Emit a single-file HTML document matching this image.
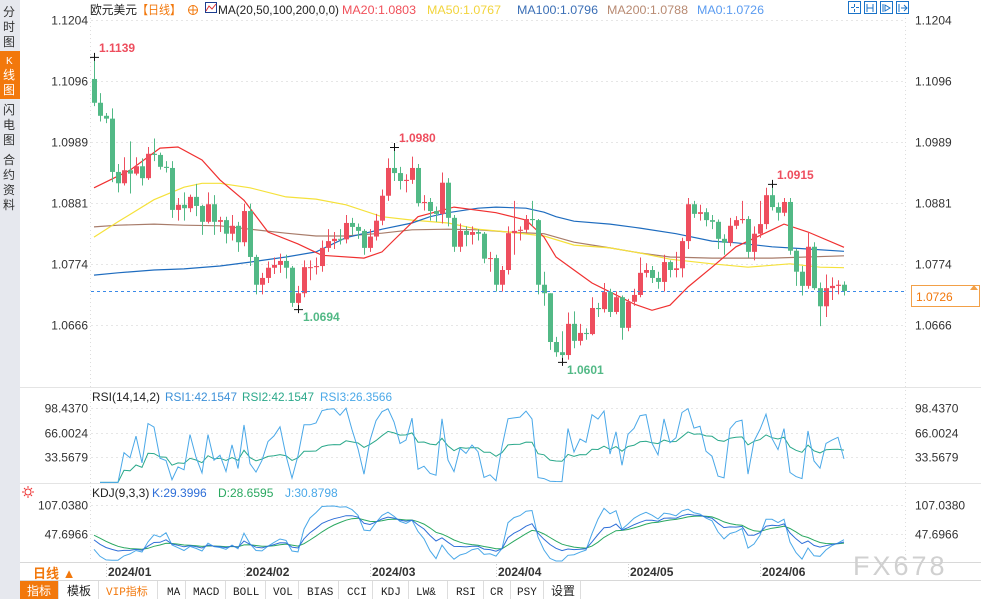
<!DOCTYPE html>
<html><head><meta charset="utf-8">
<style>
html,body{margin:0;padding:0;background:#fff;}
body{width:981px;height:599px;overflow:hidden;position:relative;font-family:"Liberation Sans","Noto Sans CJK SC",sans-serif;}
svg{position:absolute;left:0;top:0;}
svg text{font-family:"Liberation Sans","Noto Sans CJK SC",sans-serif;}
svg text.mono{font-family:"Liberation Mono","Noto Sans CJK SC",monospace;}
</style></head>
<body>
<svg id="chart" width="981" height="599">
  <rect x="0" y="0" width="20" height="599" fill="#e6e8ee"/>
  <g font-size="12" fill="#333">
    <g><text x="3" y="16">分</text><text x="3" y="31">时</text><text x="3" y="46">图</text></g>
    <rect x="0" y="51" width="20" height="48" fill="#f2780c"/>
    <g fill="#fff"><text x="6" y="64" font-size="10">K</text><text x="3" y="79">线</text><text x="3" y="94">图</text></g>
    <g><text x="3" y="114">闪</text><text x="3" y="129">电</text><text x="3" y="144">图</text></g>
    <g><text x="3" y="164">合</text><text x="3" y="179">约</text><text x="3" y="194">资</text><text x="3" y="209">料</text></g>
  </g>
  <line x1="90.5" y1="18" x2="90.5" y2="562" stroke="#ddd" stroke-dasharray="1,3"/>
  <line x1="905.5" y1="18" x2="905.5" y2="562" stroke="#ddd" stroke-dasharray="1,3"/>
  <g id="grid"></g>
  <g id="priceAxis" font-size="12" fill="#333"></g>
  <g id="mas"></g>
  <g id="candles"></g>
  <g id="rsiG"></g>
  <g id="kdjG"></g>
  <g id="dates" font-size="12" font-weight="bold" fill="#333"></g>

  <g font-size="12">
    <text x="90" y="14" fill="#222" textLength="47" lengthAdjust="spacingAndGlyphs">欧元美元</text>
    <text x="137" y="14" fill="#f2780c" textLength="44" lengthAdjust="spacingAndGlyphs">【日线】</text>
    <g><circle cx="193" cy="10" r="4.5" fill="none" stroke="#f2780c"/><line x1="188" y1="10" x2="198" y2="10" stroke="#f2780c"/><line x1="193" y1="5" x2="193" y2="15" stroke="#f2780c"/></g>
    <g><rect x="205.5" y="2.5" width="11" height="10" fill="#fff" stroke="#1d3d8f"/><polyline points="206,11 209,6 212,9 216,4" fill="none" stroke="#d33"/></g>
    <text x="218" y="14" fill="#222" textLength="121" lengthAdjust="spacingAndGlyphs">MA(20,50,100,200,0,0)</text>
    <text x="342" y="14" fill="#f0505a" textLength="74" lengthAdjust="spacingAndGlyphs">MA20:1.0803</text>
    <text x="427" y="14" fill="#f2d43c" textLength="74" lengthAdjust="spacingAndGlyphs">MA50:1.0767</text>
    <text x="517" y="14" fill="#3b6fb6" textLength="81" lengthAdjust="spacingAndGlyphs">MA100:1.0796</text>
    <text x="607" y="14" fill="#b88a72" textLength="81" lengthAdjust="spacingAndGlyphs">MA200:1.0788</text>
    <text x="697" y="14" fill="#5a9bf0" textLength="67" lengthAdjust="spacingAndGlyphs">MA0:1.0726</text>
  </g>
  <g fill="none" stroke="#1a73c8">
    <rect x="848.5" y="1.5" width="12" height="12"/>
    <rect x="864.5" y="1.5" width="12" height="12"/>
    <rect x="880.5" y="1.5" width="12" height="12"/>
    <rect x="896.5" y="1.5" width="12" height="12"/>
    <path d="M854.5 4v3M854.5 9v3M851 7.5h3M856 7.5h3M867 4v8M873 4v8M867 8h6M883 4v8M885 5l5 3-5 3zM899 4v8M901 8h6M904 5l3 3-3 3" fill="none"/>
  </g>

  <line x1="91" y1="291.5" x2="905" y2="291.5" stroke="#3a8ae8" stroke-dasharray="3,3"/>
  <rect x="911.5" y="285.5" width="68" height="21" fill="#fff" stroke="#f2a048"/>
  <text x="916" y="301" font-size="12" fill="#f2780c">1.0726</text>
  <path d="M970 290l4-5 4 5z" fill="#f2a048"/>

  <line x1="20" y1="387.5" x2="981" y2="387.5" stroke="#e4e4e4"/>
  <line x1="20" y1="483.5" x2="981" y2="483.5" stroke="#e4e4e4"/>
  <line x1="20" y1="562.5" x2="981" y2="562.5" stroke="#d8d8d8"/>
  <line x1="20" y1="580.5" x2="981" y2="580.5" stroke="#d8d8d8"/>

  <g font-size="12">
  <text x="92" y="401" fill="#222" textLength="68" lengthAdjust="spacingAndGlyphs">RSI(14,14,2)</text>
  <text x="165" y="401" fill="#3c90d8" textLength="72" lengthAdjust="spacingAndGlyphs">RSI1:42.1547</text>
  <text x="242" y="401" fill="#2aa88a" textLength="72" lengthAdjust="spacingAndGlyphs">RSI2:42.1547</text>
  <text x="320" y="401" fill="#4aa8e8" textLength="72" lengthAdjust="spacingAndGlyphs">RSI3:26.3566</text>
  </g>
  <g><circle cx="28" cy="492" r="3" fill="none" stroke="#e33"/><path d="M28 486v2M28 496v2M22 492h2M32 492h2M24 488l1.4 1.4M30.6 494.6l1.4 1.4M24 496l1.4-1.4M30.6 489.4l1.4-1.4" stroke="#e33"/></g>
  <text x="92" y="497" font-size="12" fill="#222">KDJ(9,3,3)</text>
  <text x="152" y="497" font-size="12" fill="#2f6fd8">K:29.3996</text>
  <text x="218" y="497" font-size="12" fill="#2aa860">D:28.6595</text>
  <text x="285" y="497" font-size="12" fill="#4aa8e8">J:30.8798</text>

  <text x="33" y="578" font-size="13" font-weight="bold" fill="#f2780c">日线 ▲</text>
  <text x="853" y="575" font-size="27" fill="#d0d0d0" letter-spacing="3">FX678</text>

  <g font-size="11" fill="#222">
    <rect x="20" y="581" width="38" height="18" fill="#f2780c"/>
    <text x="27" y="595" fill="#fff" font-size="12">指标</text>
    <text x="67" y="595" font-size="12">模板</text>
    <text class="mono" x="106" y="595" fill="#f2780c">VIP指标</text>
    <text class="mono" x="167" y="595">MA</text>
    <text class="mono" x="193" y="595">MACD</text>
    <text class="mono" x="233" y="595">BOLL</text>
    <text class="mono" x="273" y="595">VOL</text>
    <text class="mono" x="307" y="595">BIAS</text>
    <text class="mono" x="347" y="595">CCI</text>
    <text class="mono" x="381" y="595">KDJ</text>
    <text class="mono" x="416" y="595">LW&amp;</text>
    <text class="mono" x="456" y="595">RSI</text>
    <text class="mono" x="490" y="595">CR</text>
    <text class="mono" x="517" y="595">PSY</text>
    <text x="551" y="595" font-size="12">设置</text>
    <path d="M58.5 581v18M98.5 581v18M157.5 581v18M185.5 581v18M225.5 581v18M265.5 581v18M298.5 581v18M338.5 581v18M372.5 581v18M408.5 581v18M447.5 581v18M483.5 581v18M510.5 581v18M543.5 581v18M580.5 581v18" stroke="#ddd"/>
  </g>
</svg>
<script>
const closes=[1.1058,1.1035,1.1030,1.0936,1.0916,1.0939,1.0933,1.0946,1.0925,1.0968,1.0966,1.0945,1.0943,1.0869,1.0878,1.0872,1.0892,1.0876,1.0848,1.0879,1.0848,1.0851,1.0827,1.0841,1.0812,1.0867,1.0786,1.0737,1.0749,1.0767,1.0772,1.0779,1.0767,1.0705,1.0722,1.0768,1.0768,1.0770,1.0802,1.0814,1.0818,1.0817,1.0846,1.0839,1.0832,1.0802,1.0822,1.0850,1.0894,1.0943,1.0934,1.0920,1.0922,1.0943,1.0881,1.0883,1.0867,1.0862,1.0917,1.0855,1.0804,1.0832,1.0825,1.0830,1.0827,1.0783,1.0784,1.0737,1.0763,1.0828,1.0832,1.0834,1.0853,1.0851,1.0737,1.0722,1.0636,1.0618,1.0613,1.0668,1.0638,1.0652,1.0650,1.0696,1.0694,1.0724,1.0689,1.0715,1.0661,1.0707,1.0719,1.0758,1.0763,1.0749,1.0742,1.0777,1.0763,1.0766,1.0814,1.0879,1.0862,1.0865,1.0851,1.0848,1.0818,1.0811,1.0841,1.0851,1.0853,1.0795,1.0827,1.0844,1.0895,1.0874,1.0864,1.0883,1.0797,1.0760,1.0735,1.0804,1.0731,1.0699,1.0731,1.0735,1.0737,1.0726];
const highs=[1.1139,1.1075,1.1040,1.1048,1.0950,1.0962,1.0990,1.0962,1.0960,1.0980,1.0995,1.0970,1.0955,1.0955,1.0890,1.0900,1.0896,1.0915,1.0878,1.0900,1.0895,1.0857,1.0857,1.0860,1.0848,1.0880,1.0880,1.0790,1.0758,1.0778,1.0785,1.0792,1.0790,1.0770,1.0735,1.0780,1.0780,1.0785,1.0815,1.0835,1.0830,1.0835,1.0860,1.0855,1.0845,1.0835,1.0835,1.0862,1.0905,1.0960,1.0980,1.0945,1.0932,1.0963,1.0950,1.0895,1.0890,1.0875,1.0935,1.0925,1.0860,1.0845,1.0840,1.0840,1.0835,1.0830,1.0795,1.0790,1.0770,1.0840,1.0885,1.0840,1.0860,1.0885,1.0853,1.0760,1.0722,1.0645,1.0655,1.0688,1.0690,1.0668,1.0660,1.0715,1.0705,1.0740,1.0730,1.0725,1.0718,1.0712,1.0730,1.0785,1.0775,1.0770,1.0760,1.0790,1.0780,1.0795,1.0820,1.0890,1.0885,1.0878,1.0872,1.0860,1.0852,1.0826,1.0855,1.0858,1.0885,1.0858,1.0840,1.0885,1.0908,1.0915,1.0882,1.0890,1.0890,1.0800,1.0770,1.0830,1.0812,1.0741,1.0755,1.0750,1.0745,1.0743];
const lows=[1.1052,1.1025,1.1022,1.0918,1.0900,1.0912,1.0898,1.0930,1.0912,1.0922,1.0955,1.0940,1.0935,1.0855,1.0850,1.0850,1.0865,1.0858,1.0825,1.0845,1.0825,1.0830,1.0810,1.0815,1.0795,1.0805,1.0770,1.0720,1.0720,1.0740,1.0756,1.0758,1.0748,1.0698,1.0694,1.0715,1.0745,1.0755,1.0760,1.0795,1.0800,1.0808,1.0810,1.0825,1.0818,1.0790,1.0795,1.0815,1.0842,1.0885,1.0920,1.0905,1.0900,1.0915,1.0875,1.0868,1.0850,1.0848,1.0845,1.0840,1.0795,1.0795,1.0805,1.0808,1.0815,1.0775,1.0760,1.0725,1.0725,1.0755,1.0790,1.0815,1.0828,1.0840,1.0720,1.0700,1.0622,1.0610,1.0601,1.0605,1.0625,1.0630,1.0640,1.0648,1.0680,1.0688,1.0680,1.0685,1.0640,1.0655,1.0700,1.0715,1.0750,1.0740,1.0730,1.0725,1.0750,1.0750,1.0750,1.0800,1.0855,1.0850,1.0840,1.0835,1.0800,1.0790,1.0805,1.0835,1.0845,1.0785,1.0780,1.0820,1.0835,1.0868,1.0850,1.0858,1.0790,1.0735,1.0718,1.0730,1.0728,1.0664,1.0680,1.0710,1.0720,1.0718];
const firstOpen=1.1100;
const ma20Idx=[0,6,11,14,18,21,25,29,34,38,45,48,50,54,60,67,72,75,77,80,83,87,90,93,96,99,103,107,113,115,119,125];
const ma20Val=[1.0908,1.0939,1.0978,1.0980,1.0957,1.0922,1.0886,1.0830,1.0809,1.0789,1.0784,1.0795,1.0816,1.0857,1.0874,1.0864,1.0851,1.0821,1.0786,1.0763,1.0740,1.0719,1.0703,1.0692,1.0701,1.0733,1.0768,1.0804,1.0834,1.0844,1.0830,1.0803];
const ma50Idx=[0,4,10,15,18,21,26,32,37,42,48,53,59,64,69,75,80,86,91,96,103,109,116,121,125];
const ma50Val=[1.0821,1.0848,1.0887,1.0909,1.0916,1.0916,1.0908,1.0892,1.0888,1.0878,1.0857,1.0851,1.0846,1.0835,1.0830,1.0823,1.0807,1.0802,1.0793,1.0782,1.0774,1.0768,1.0774,1.0768,1.0767];
const ma100Idx=[0,4,10,15,21,26,32,37,42,48,53,56,59,64,67,72,75,77,80,86,91,97,103,107,113,119,125];
const ma100Val=[1.0754,1.0758,1.0763,1.0765,1.0770,1.0777,1.0786,1.0795,1.0820,1.0835,1.0846,1.0857,1.0864,1.0872,1.0874,1.0872,1.0865,1.0857,1.0849,1.0844,1.0837,1.0827,1.0814,1.0811,1.0804,1.0800,1.0796];
const ma200Idx=[0,4,10,15,21,26,32,37,42,48,53,59,64,69,75,80,86,91,96,103,113,125];
const ma200Val=[1.0839,1.0842,1.0844,1.0842,1.0841,1.0835,1.0828,1.0823,1.0823,1.0828,1.0834,1.0835,1.0834,1.0830,1.0827,1.0812,1.0802,1.0793,1.0786,1.0784,1.0784,1.0788];
const priceTicks=["1.1204","1.1096","1.0989","1.0881","1.0774","1.0666"];
const rsiTicks=["98.4370","66.0024","33.5679"];
const kdjTicks=["107.0380","47.6966"];
const monthLabels=["2024/01","2024/02","2024/03","2024/04","2024/05","2024/06"];
const monthStartIdx=[2,25,46,67,89,111];
const annoIdx=[0,50,34,78,113];
const annoText=["1.1139","1.0980","1.0694","1.0601","1.0915"];
const annoHigh=[true,true,false,false,true];

const NS="http://www.w3.org/2000/svg";
function mk(tag,attrs,parent){const e=document.createElementNS(NS,tag);for(const k in attrs)e.setAttribute(k,attrs[k]);parent.appendChild(e);return e;}
const xOf=i=>94+6*i;
const yP=p=>20+(1.1204-p)*5669;
const yR=v=>408+(98.437-v)*0.7554;
const yK=v=>Math.min(561,Math.max(486,505+(107.038-v)*0.4887));

const grid=document.getElementById('grid'),pa=document.getElementById('priceAxis');
priceTicks.forEach(t=>{const y=Math.round(yP(+t))+0.5;
  const l=mk('line',{x1:91,x2:905,y1:y,y2:y,stroke:'#e6e6e6','stroke-dasharray':'2,3'},grid);
  
  
  const a=mk('text',{x:88,y:y+4,'text-anchor':'end'},pa);a.textContent=t;
  
  
  const b=mk('text',{x:915,y:y+4},pa);b.textContent=t;
  
  
});
rsiTicks.forEach(t=>{const y=Math.round(yR(+t))+0.5;
  const l=mk('line',{x1:91,x2:905,y1:y,y2:y,stroke:'#e6e6e6','stroke-dasharray':'2,3'},grid);
  
  
  const a=mk('text',{x:88,y:y+4,'text-anchor':'end'},pa);a.textContent=t;
  
  
  const b=mk('text',{x:915,y:y+4},pa);b.textContent=t;
  
  
});
kdjTicks.forEach(t=>{const y=Math.round(yK(+t))+0.5;
  const l=mk('line',{x1:91,x2:905,y1:y,y2:y,stroke:'#e6e6e6','stroke-dasharray':'2,3'},grid);
  
  
  const a=mk('text',{x:88,y:y+4,'text-anchor':'end'},pa);a.textContent=t;
  
  
  const b=mk('text',{x:915,y:y+4},pa);b.textContent=t;
  
  
});

const mas=document.getElementById('mas');
[[ma200Idx,ma200Val,'#a87c6a','ma200-line'],[ma50Idx,ma50Val,'#f5e13a','ma50-line'],[ma100Idx,ma100Val,'#1e6cbf','ma100-line'],[ma20Idx,ma20Val,'#f03030','ma20-line']].forEach(([ix,v,c,n])=>{
  const pts=ix.map((i,k)=>xOf(i)+','+yP(v[k]).toFixed(1)).join(' ');
  const p=mk('polyline',{points:pts,fill:'none',stroke:c,'stroke-width':1.2},mas);
  
  
});

const cg=document.getElementById('candles');
closes.forEach((c,i)=>{
  const o=i===0?firstOpen:closes[i-1];
  const up=c>=o, col=up?'#ee4e5e':'#52b986', x=xOf(i);
  const g=mk('g',{},cg);
  
  
  mk('line',{x1:x+0.5,x2:x+0.5,y1:yP(highs[i]),y2:yP(lows[i]),stroke:col},g);
  const t=yP(Math.max(o,c)),b=yP(Math.min(o,c));
  mk('rect',{x:x-2,y:t,width:5,height:Math.max(1,b-t),fill:col},g);
});
annoIdx.forEach((i,k)=>{
  const x=xOf(i),hi=annoHigh[k],y=hi?yP(highs[i]):yP(lows[i]);
  const m=mk('path',{d:`M${x-4} ${y+0.5}h9M${x+0.5} ${y-4}v8`,stroke:'#111'},cg);
  
  
  const t=mk('text',{x:x+5,y:hi?y-5:y+12,'font-size':12,'font-weight':'bold',fill:hi?'#ee4e5e':'#52b986'},cg);
  t.textContent=annoText[k];
  
  
});

function rsi(n){const out=[];let ag=0,al=0;
  for(let i=1;i<closes.length;i++){const d=closes[i]-closes[i-1],g=Math.max(d,0),l=Math.max(-d,0);
    ag=(ag*(n-1)+g)/n; al=(al*(n-1)+l)/n; out.push(al+ag===0?50:100*ag/(ag+al));}
  return out;}
const rsiG=document.getElementById('rsiG');
[[rsi(14),'#2aa88a','rsi1-line'],[rsi(2),'#4aa8e8','rsi3-line']].forEach(([s,c,n])=>{
  const pts=s.map((v,k)=>xOf(k+1)+','+yR(v).toFixed(1)).join(' ');
  const p=mk('polyline',{points:pts,fill:'none',stroke:c,'stroke-width':1},rsiG);
  
  
});
const K=[],D=[],J=[];let k=50,d=50;
closes.forEach((c,i)=>{const s=Math.max(0,i-8);const hh=Math.max(...highs.slice(s,i+1)),ll=Math.min(...lows.slice(s,i+1));
  const rsv=hh===ll?50:100*(c-ll)/(hh-ll);k=(2*k+rsv)/3;d=(2*d+k)/3;K.push(k);D.push(d);J.push(3*k-2*d);});
const kg=document.getElementById('kdjG');
[[J,'#4aa8e8','j-line'],[D,'#2aa860','d-line'],[K,'#2f6fd8','k-line']].forEach(([s,c,n])=>{
  const pts=s.map((v,i)=>xOf(i)+','+yK(v).toFixed(1)).join(' ');
  const p=mk('polyline',{points:pts,fill:'none',stroke:c,'stroke-width':1},kg);
  
  
});
const dg=document.getElementById('dates');
monthLabels.forEach((m,k)=>{const x=xOf(monthStartIdx[k]);
  const l=mk('line',{x1:x+0.5,x2:x+0.5,y1:564,y2:579,stroke:'#ccc','stroke-dasharray':'1,2'},dg);
  
  
  const t=mk('text',{x:x+2,y:576},dg);t.textContent=m;
  
  
});
</script>
</body></html>
